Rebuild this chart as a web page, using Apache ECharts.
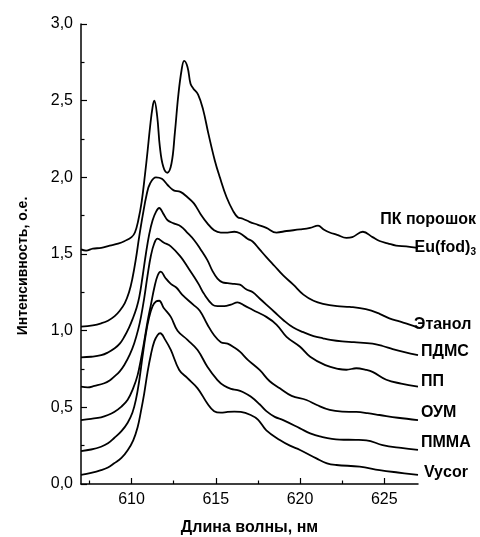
<!DOCTYPE html>
<html>
<head>
<meta charset="utf-8">
<script src="https://cdn.jsdelivr.net/npm/echarts@6/dist/echarts.min.js"></script>
<style>
html,body{margin:0;padding:0;background:#fff;}
#chart{width:480px;height:537px;}
</style>
</head>
<body>
<div id="chart"></div>
<script>
// ---- data (wavelength nm, intensity a.u.) ----
var pkPowder = [[607.0,1.530],[607.3,1.522],[607.7,1.535],[608.2,1.540],[608.7,1.555],[609.2,1.568],[609.6,1.585],[610.0,1.610],[610.2,1.640],[610.4,1.720],[610.6,1.840],[610.8,2.020],[610.95,2.170],[611.1,2.330],[611.25,2.460],[611.35,2.500],[611.52,2.400],[611.68,2.200],[611.88,2.070],[612.12,2.030],[612.37,2.090],[612.57,2.290],[612.77,2.530],[612.97,2.700],[613.12,2.760],[613.32,2.720],[613.5,2.610],[613.66,2.580],[613.95,2.540],[614.25,2.440],[614.55,2.290],[614.94,2.110],[615.24,2.000],[615.64,1.870],[616.03,1.780],[616.3,1.740],[616.6,1.730],[617.0,1.710],[617.5,1.690],[618.0,1.670],[618.6,1.640],[619.2,1.650],[620.0,1.660],[620.6,1.670],[621.07,1.685],[621.4,1.660],[621.76,1.640],[622.2,1.625],[622.75,1.605],[623.1,1.610],[623.73,1.645],[624.3,1.610],[624.72,1.585],[625.2,1.570],[625.7,1.555],[626.3,1.550],[627.0,1.540]];
var ethanol = [[607.0,1.026],[607.7,1.035],[608.2,1.048],[608.6,1.065],[609.0,1.095],[609.3,1.130],[609.6,1.180],[609.85,1.250],[610.05,1.340],[610.26,1.470],[610.45,1.610],[610.66,1.750],[610.9,1.890],[611.1,1.960],[611.45,2.000],[611.8,1.990],[612.14,1.950],[612.5,1.915],[612.9,1.905],[613.32,1.870],[613.7,1.830],[614.1,1.760],[614.5,1.700],[614.9,1.655],[615.3,1.640],[615.7,1.640],[616.1,1.645],[616.43,1.635],[616.88,1.600],[617.2,1.580],[617.6,1.530],[618.0,1.480],[618.5,1.420],[619.0,1.360],[619.6,1.300],[620.2,1.235],[620.8,1.195],[621.36,1.175],[622.2,1.160],[622.95,1.155],[623.9,1.140],[624.72,1.110],[625.3,1.080],[625.9,1.060],[626.5,1.040],[627.0,1.020]];
var pdms = [[607.0,0.826],[607.6,0.830],[608.2,0.840],[608.6,0.858],[609.0,0.885],[609.3,0.915],[609.57,0.960],[609.85,1.020],[610.06,1.075],[610.3,1.150],[610.46,1.220],[610.65,1.350],[610.85,1.500],[611.05,1.630],[611.25,1.720],[611.45,1.775],[611.64,1.800],[611.9,1.760],[612.14,1.720],[612.5,1.700],[612.93,1.680],[613.3,1.640],[613.72,1.590],[614.1,1.530],[614.5,1.460],[614.8,1.390],[615.1,1.340],[615.4,1.315],[615.7,1.310],[616.1,1.305],[616.43,1.300],[616.8,1.270],[617.2,1.250],[617.6,1.210],[618.0,1.170],[618.5,1.120],[619.0,1.070],[619.6,1.020],[620.2,0.990],[620.8,0.965],[621.36,0.950],[621.8,0.940],[622.5,0.930],[623.2,0.925],[624.3,0.915],[624.9,0.900],[625.5,0.880],[626.2,0.860],[627.0,0.840]];
var pp = [[607.0,0.635],[607.4,0.630],[607.8,0.640],[608.38,0.657],[608.7,0.675],[608.97,0.700],[609.3,0.735],[609.57,0.776],[609.9,0.845],[610.16,0.918],[610.4,1.010],[610.56,1.090],[610.75,1.210],[610.95,1.360],[611.15,1.490],[611.35,1.570],[611.54,1.600],[611.9,1.575],[612.33,1.550],[612.93,1.480],[613.3,1.420],[613.72,1.350],[614.0,1.300],[614.3,1.240],[614.8,1.170],[615.1,1.160],[615.5,1.160],[615.9,1.170],[616.29,1.185],[616.68,1.165],[617.2,1.135],[618.0,1.090],[618.6,1.040],[619.2,0.960],[620.0,0.895],[620.6,0.830],[621.5,0.775],[622.3,0.750],[622.75,0.745],[623.34,0.755],[623.9,0.745],[624.33,0.730],[625.12,0.680],[626.0,0.655],[627.0,0.635]];
var oum = [[607.0,0.417],[607.6,0.425],[608.19,0.435],[608.6,0.450],[608.97,0.470],[609.4,0.505],[609.77,0.550],[610.1,0.625],[610.36,0.710],[610.55,0.810],[610.75,0.930],[610.95,1.060],[611.15,1.170],[611.35,1.280],[611.55,1.360],[611.74,1.385],[612.0,1.345],[612.33,1.305],[612.67,1.280],[613.0,1.235],[613.66,1.170],[614.05,1.130],[614.5,1.040],[614.9,0.970],[615.3,0.925],[615.7,0.915],[616.1,0.890],[616.43,0.863],[616.9,0.810],[617.6,0.744],[618.2,0.670],[618.8,0.624],[619.5,0.575],[620.38,0.548],[621.0,0.515],[621.76,0.483],[622.5,0.472],[623.34,0.470],[624.0,0.462],[624.72,0.450],[625.8,0.432],[627.0,0.417]];
var pmma = [[607.0,0.215],[607.6,0.225],[608.19,0.243],[608.6,0.265],[608.97,0.300],[609.4,0.345],[609.77,0.400],[610.05,0.465],[610.26,0.550],[610.45,0.670],[610.65,0.830],[610.85,0.980],[611.05,1.090],[611.25,1.160],[611.45,1.190],[611.64,1.195],[611.9,1.150],[612.33,1.090],[612.73,1.000],[613.32,0.940],[613.92,0.874],[614.5,0.765],[615.1,0.678],[615.5,0.640],[615.9,0.620],[616.29,0.613],[616.6,0.600],[617.07,0.570],[617.6,0.520],[618.0,0.475],[618.5,0.438],[619.0,0.417],[620.0,0.363],[620.6,0.330],[621.17,0.310],[622.35,0.290],[623.3,0.288],[623.94,0.285],[624.9,0.254],[626.0,0.235],[627.0,0.222]];
var vycor = [[607.0,0.059],[607.6,0.072],[608.19,0.090],[608.6,0.108],[608.97,0.135],[609.4,0.170],[609.77,0.220],[610.1,0.285],[610.36,0.370],[610.55,0.470],[610.75,0.590],[610.95,0.730],[611.15,0.845],[611.35,0.930],[611.55,0.972],[611.7,0.983],[612.0,0.940],[612.33,0.874],[612.83,0.744],[613.32,0.690],[613.92,0.624],[614.5,0.525],[614.9,0.475],[615.3,0.465],[615.7,0.470],[616.1,0.472],[616.48,0.470],[617.07,0.450],[617.5,0.420],[618.0,0.350],[618.8,0.287],[619.4,0.250],[620.0,0.222],[620.97,0.167],[621.6,0.135],[622.16,0.124],[623.54,0.113],[624.72,0.091],[625.8,0.075],[627.0,0.059]];

var seriesNames = ['ПК порошок Eu(fod)3','Этанол','ПДМС','ПП','ОУМ','ПММА','Vycor'];
var seriesData = [pkPowder, ethanol, pdms, pp, oum, pmma, vycor];
var xMajorTicks = [610, 615, 620, 625];
var xMinorTicks = [607.5, 612.5, 617.5, 622.5];
var xTitle = 'Длина волны, нм';
var yTitle = 'Интенсивность, о.е.';

var FONT = 'Arial, "Liberation Sans", sans-serif';
var chart = echarts.init(document.getElementById('chart'), null, {renderer:'canvas'});

var series = seriesData.map(function(d, i){
  return {
    name: seriesNames[i], type:'line', data:d, xAxisIndex:0, yAxisIndex:0,
    showSymbol:false, smooth:0.4, lineStyle:{color:'#000', width:1.8}, silent:true, z:3
  };
});

function lbl(txt, x, y, align){
  return {type:'text', x:x, y:y, style:{text:txt, fill:'#000', font:'bold 16px ' + FONT, textAlign:align, textVerticalAlign:'middle',
    rich:{sub:{fontSize:10, fontWeight:'bold', fontFamily:FONT, verticalAlign:'bottom', padding:[8,0,0,0]}}}};
}

chart.setOption({
  animation:false,
  backgroundColor:'#fff',
  grid:{left:81, right:62, top:24, bottom:53, containLabel:false, outerBoundsMode:'none'},
  xAxis:[{
    type:'value', min:607, max:627, position:'bottom',
    name:xTitle, nameLocation:'middle', nameGap:36,
    nameTextStyle:{color:'#000', fontWeight:'bold', fontSize:16, fontFamily:FONT},
    axisLine:{show:true, lineStyle:{color:'#000', width:1.5}},
    axisTick:{show:true, inside:true, length:6, customValues:xMajorTicks, lineStyle:{color:'#000', width:1.2}},
    axisLabel:{show:true, customValues:xMajorTicks, color:'#000', fontSize:16, fontFamily:FONT, margin:8},
    splitLine:{show:false}
  },{
    type:'value', min:607, max:627, position:'bottom',
    axisLine:{show:false},
    axisTick:{show:true, inside:true, length:3.5, customValues:xMinorTicks, lineStyle:{color:'#000', width:1.2}},
    axisLabel:{show:false},
    splitLine:{show:false}
  }],
  yAxis:[{
    type:'value', min:0, max:3, interval:0.5,
    axisLine:{show:true, lineStyle:{color:'#000', width:1.5}},
    axisTick:{show:true, inside:true, length:6, lineStyle:{color:'#000', width:1.2}},
    minorTick:{show:true, splitNumber:2, length:3.5, lineStyle:{color:'#000', width:1.2}},
    axisLabel:{color:'#000', fontSize:16, fontFamily:FONT, margin:8,
      formatter:function(v){ return v.toFixed(1).replace('.', ','); }},
    splitLine:{show:false}, minorSplitLine:{show:false}
  }],
  series: series,
  graphic:[
    {type:'text', x:23, y:266, rotation:Math.PI/2,
      style:{text:yTitle, fill:'#000', font:'bold 14px ' + FONT, textAlign:'center', textVerticalAlign:'middle'}},
    lbl('ПК порошок', 476, 220, 'right'),
    lbl('Eu(fod){sub|3}', 476, 248, 'right'),
    lbl('Этанол', 414, 325, 'left'),
    lbl('ПДМС', 421, 352, 'left'),
    lbl('ПП', 421, 382, 'left'),
    lbl('ОУМ', 421, 413, 'left'),
    lbl('ПММА', 421, 443, 'left'),
    lbl('Vycor', 424, 473, 'left')
  ]
});
</script>
</body>
</html>
